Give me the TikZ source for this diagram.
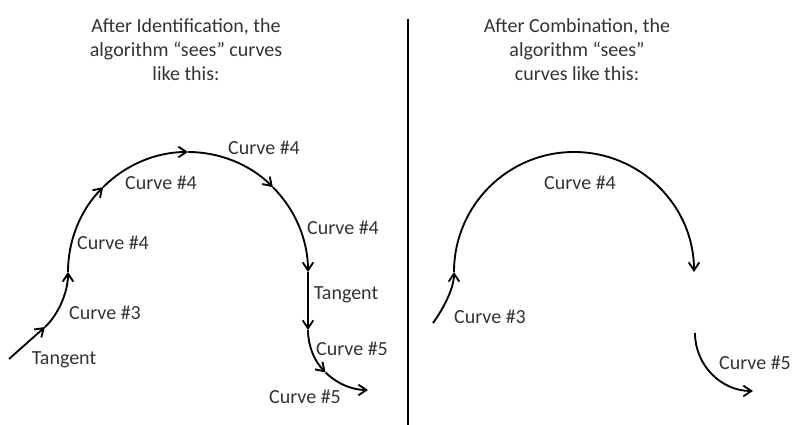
\documentclass[tikz,border=0pt]{standalone}
\usepackage{fontspec}
\setmainfont{Carlito}
\usetikzlibrary{arrows.meta}
\definecolor{inkgray}{HTML}{333333}
\tikzset{
  cseg/.style={-{Straight Barb[length=6pt,width=8pt]},line width=1.4pt},
  clabel/.style={inner sep=1pt,text=inkgray,font=\fontsize{15}{18}\selectfont},
  ctitle/.style={align=center,inner sep=0pt,text=inkgray,font=\fontsize{15}{18}\selectfont},
  divline/.style={line width=1.4pt}
}
\begin{document}
\begin{tikzpicture}[x=0.75pt,y=0.75pt]
  \useasboundingbox (0,0) rectangle (794,425);
  % titles and divider
  \node[ctitle] (titleL) at (186,375) {After Identification, the\\algorithm ``sees'' curves\\like this:};
  \node[ctitle] (titleR) at (577,375) {After Combination, the\\algorithm ``sees''\\curves like this:};
  \coordinate (dtop) at (408,406);
  \coordinate (dbot) at (408,0);
  \draw[divline] (dtop) -- (dbot);

  % left: identification, pieces
  \coordinate (tanA) at (9,66);
  \coordinate (tanB) at (45,98);
  \coordinate (arcL) at (68,153);
  \coordinate (arcLc) at (188,153);
  \coordinate (tanC) at (308,153);
  \coordinate (tanD) at (308,95);
  \coordinate (fiveLc) at (368,95);
  \draw[cseg] (tanA) -- (tanB);
  \draw[cseg] (tanB) .. controls (56,108) and (68,130) .. (arcL);
  \foreach \a in {180,135,90,45}
    \draw[cseg] ([shift={(\a:120)}]arcLc) arc[start angle=\a,delta angle=-45,radius=120];
  \draw[cseg] (tanC) -- (tanD);
  \foreach \a in {180,225}
    \draw[cseg] ([shift={(\a:60)}]fiveLc) arc[start angle=\a,delta angle=45,radius=60];

  \node[clabel] (lTan1) at (64,65) {Tangent};
  \node[clabel] (lC3) at (105,112) {Curve \#3};
  \node[clabel] (lC4a) at (113,182) {Curve \#4};
  \node[clabel] (lC4b) at (161,242) {Curve \#4};
  \node[clabel] (lC4c) at (264,277) {Curve \#4};
  \node[clabel] (lC4d) at (343,197) {Curve \#4};
  \node[clabel] (lTan2) at (346,130) {Tangent};
  \node[clabel] (lC5a) at (352,76) {Curve \#5};
  \node[clabel] (lC5b) at (305,28) {Curve \#5};

  % right: combination
  \coordinate (rThree) at (433,102);
  \coordinate (arcR) at (454,153);
  \coordinate (arcRc) at (574,153);
  \coordinate (fiveRc) at (753,92);
  \draw[cseg] (rThree) .. controls (441,113) and (454,135) .. (arcR);
  \draw[cseg] (arcR) arc[start angle=180,end angle=0,radius=120];
  \draw[cseg] ([shift={(180:58)}]fiveRc) arc[start angle=180,end angle=270,radius=58];

  \node[clabel] (rC4) at (580,242) {Curve \#4};
  \node[clabel] (rC3) at (490,108) {Curve \#3};
  \node[clabel] (rC5) at (755,62) {Curve \#5};
\end{tikzpicture}
\end{document}
